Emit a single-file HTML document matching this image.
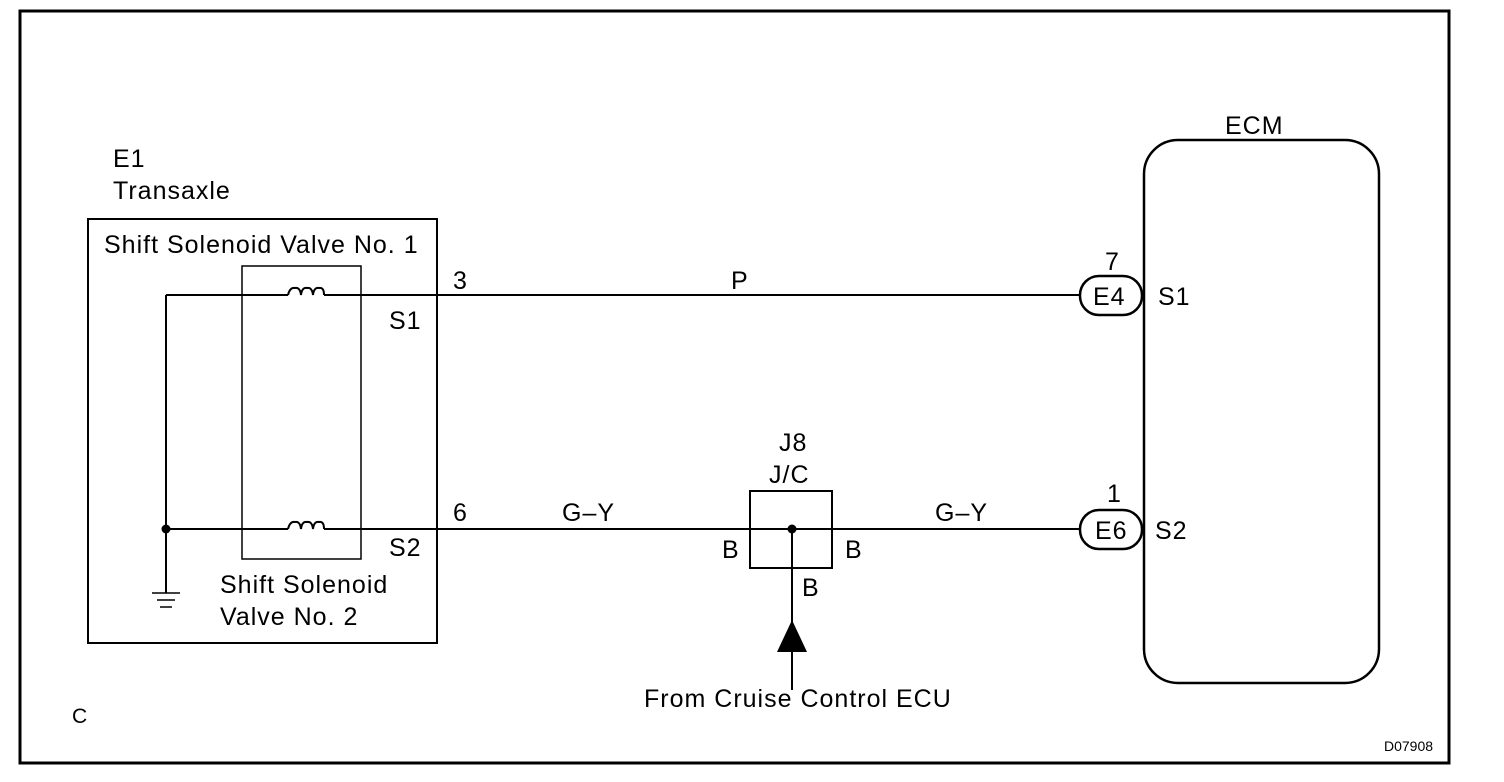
<!DOCTYPE html>
<html><head><meta charset="utf-8"><style>
html,body{margin:0;padding:0;background:#fff;}
svg{display:block;}
text{font-family:"Liberation Sans",Arial,sans-serif;font-size:25px;letter-spacing:1px;fill:#000;}
</style></head><body>
<svg width="1504" height="782" viewBox="0 0 1504 782" xmlns="http://www.w3.org/2000/svg">
<rect x="20" y="11" width="1429" height="752" fill="none" stroke="#000" stroke-width="3"/>
<text x="113" y="167">E1</text>
<text x="113" y="199">Transaxle</text>
<rect x="88" y="219" width="349" height="424" fill="none" stroke="#000" stroke-width="2"/>
<text x="104" y="253">Shift Solenoid Valve No. 1</text>
<rect x="242" y="266" width="119" height="293" fill="none" stroke="#000" stroke-width="1.5"/>
<g fill="none" stroke="#000" stroke-width="2">
<path d="M166 295 H288 M324 295 H1080"/>
<path d="M288 295 q2 -8 7 -7 q5 -1 6 7 q1 -8 6 -7 q5 -1 6 7 q1 -8 6 -7 q5 -1 5 7"/>
<path d="M166 529 H288 M324 529 H750 M832 529 H1080"/>
<path d="M288 529 q2 -8 7 -7 q5 -1 6 7 q1 -8 6 -7 q5 -1 6 7 q1 -8 6 -7 q5 -1 5 7"/>
<path d="M166 295 V593"/>
<path d="M152 593 H180 M157 600 H175 M160 607 H172" stroke-width="1.5"/>
</g>
<circle cx="166" cy="529" r="4.5"/>
<text x="389" y="329">S1</text>
<text x="389" y="556">S2</text>
<text x="220" y="593">Shift Solenoid</text>
<text x="220" y="625">Valve No. 2</text>
<text x="453" y="289">3</text>
<text x="731" y="289">P</text>
<text x="453" y="521">6</text>
<text x="562" y="521">G–Y</text>
<text x="935" y="521">G–Y</text>
<text x="779" y="451">J8</text>
<text x="769" y="483">J/C</text>
<rect x="750" y="491" width="82" height="77" fill="none" stroke="#000" stroke-width="2"/>
<line x1="750" y1="529" x2="832" y2="529" stroke="#000" stroke-width="2"/>
<circle cx="792" cy="529" r="4.5"/>
<line x1="792" y1="529" x2="792" y2="690" stroke="#000" stroke-width="2"/>
<polygon points="792,620 777,652 807,652"/>
<text x="722" y="558">B</text>
<text x="845" y="558">B</text>
<text x="802" y="596">B</text>
<text x="644" y="707">From Cruise Control ECU</text>
<text x="72" y="723" style="font-size:21px">C</text>
<text x="1225" y="134">ECM</text>
<rect x="1144" y="140" width="235" height="543" rx="34" ry="34" fill="none" stroke="#000" stroke-width="2.5"/>
<rect x="1080" y="276" width="62" height="39" rx="19" ry="19" fill="#fff" stroke="#000" stroke-width="2.5"/>
<text x="1093" y="305">E4</text>
<text x="1105" y="270">7</text>
<text x="1158" y="305">S1</text>
<rect x="1080" y="510" width="62" height="39" rx="19" ry="19" fill="#fff" stroke="#000" stroke-width="2.5"/>
<text x="1095" y="539">E6</text>
<text x="1107" y="502">1</text>
<text x="1155" y="539">S2</text>
<text x="1384" y="751" style="font-size:14px;letter-spacing:0">D07908</text>
</svg>
</body></html>
